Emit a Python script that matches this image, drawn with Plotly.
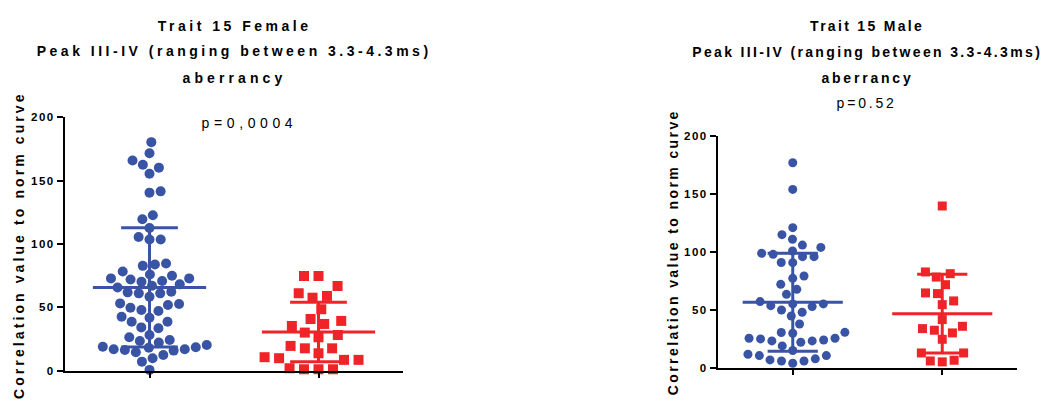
import math
import json
import numpy as np
import plotly.graph_objects as go

W, H = 1045, 401

# ---------------- data ----------------
categories = ["Group 1", "Group 2"]

female_blue = [180.3, 171.6, 165.9, 162.5, 160.2, 155.4, 141.5, 140.5, 122.7, 119.5,
               112.7, 103.5, 103.5, 105.6, 83.9, 82.8, 84.7, 78.4, 76.0, 75.0,
               72.9, 72.1, 72.9, 70.2, 70.8, 67.1, 68.2, 62.4, 61.1, 58.5,
               61.1, 61.9, 65.8, 53.2, 51.9, 52.7, 49.8, 48.0, 47.2, 42.7,
               41.9, 38.8, 38.8, 34.3, 33.6, 28.3, 24.4, 22.3, 19.1, 18.6,
               17.0, 16.5, 16.0, 17.0, 18.3, 20.4, 23.6, 26.5, 10.0, 14.7,
               7.3, 12.6, 0.8]
female_red = [74.8, 74.8, 66.9, 61.2, 57.7, 59.1, 48.6, 40.9, 37.0, 39.4,
              35.4, 30.2, 26.5, 28.3, 19.7, 17.8, 13.9, 17.8, 10.0, 8.7,
              8.7, 10.8, 1.3, 1.3, 1.3, 2.1]
male_blue = [177.0, 154.0, 121.0, 111.0, 115.0, 104.0, 106.0, 98.9, 96.0, 91.0,
             90.8, 96.0, 98.0, 100.9, 77.3, 79.3, 67.8, 72.1, 63.5, 55.2,
             53.7, 52.9, 55.2, 57.2, 48.0, 50.0, 37.9, 44.8, 30.5, 25.6,
             25.0, 23.3, 22.1, 19.0, 23.3, 24.1, 25.6, 29.9, 30.7, 15.0,
             10.6, 7.8, 6.0, 4.0, 6.0, 6.9, 10.6, 11.8]
male_red = [139.7, 81.3, 78.4, 82.8, 71.8, 64.7, 64.1, 57.8, 54.6, 41.7,
            33.9, 30.2, 32.5, 35.9, 24.7, 12.9, 12.9, 6.6, 5.2, 6.0]

female_mean = [65.8, 30.7]
female_sd = [47.0, 23.5]
male_mean = [56.6, 46.8]
male_sd = [42.3, 34.0]

panel_titles = ["Trait 15 Female", "Trait 15 Male"]
title_line2 = "Peak III-IV (ranging between 3.3-4.3ms)"
title_line3 = "aberrancy"
p_values = ["p=0,0004", "p=0.52"]
y_title = "Correlation value to norm curve"
y_ticks = [0, 50, 100, 150, 200]

BLUE = "#3a54a5"
RED = "#ee2428"
FONT = "Arial, Liberation Sans, sans-serif"


def Y(t):
    # compensate for the vertical mapping observed in the photographed page
    return (t - 5.75) / 0.971


# ---------------- geometry (pixels) ----------------
panels = [
    dict(x0=65, x1=403, ytop=Y(117), ybot=Y(371)),
    dict(x0=718, x1=1017, ytop=Y(136), ybot=Y(368)),
]


def swarm(values, px_per_unit, diam):
    """Greedy beeswarm offsets (pixels) computed from the values."""
    vals = np.asarray(values, dtype=float)
    order = np.argsort(vals, kind="stable")
    placed = []
    xs = np.zeros(len(vals))
    for n, i in enumerate(order):
        y = vals[i] * px_per_unit
        cands = [0.0]
        for (px, py) in placed:
            dy = abs(py - y)
            if dy < diam:
                dx = math.sqrt(diam ** 2 - dy ** 2)
                cands += [px + dx, px - dx]
        sign = 1 if n % 2 == 0 else -1
        cands.sort(key=lambda c: (round(abs(c), 4), -sign * c))
        for c in cands:
            if all((c - px) ** 2 + (y - py) ** 2 >= diam ** 2 - 1e-6 for px, py in placed):
                xs[i] = c
                break
        placed.append((xs[i], y))
    return xs


fig = go.Figure()

groups = [
    (female_blue, female_red, female_mean, female_sd, 10.0, 10.0, 11.2, 14.5),
    (male_blue, male_red, male_mean, male_sd, 9.0, 9.0, 11.5, 12.0),
]

for k, (blue, red, mean, sd, csize, ssize, dsb, dsr) in enumerate(groups):
    p = panels[k]
    px_unit_y = 0.971 * (p["ybot"] - p["ytop"]) / 200.0
    px_cat = (p["x1"] - p["x0"]) / 2.0
    xa = "x" if k == 0 else "x2"
    ya = "y" if k == 0 else "y2"
    for ci, (vals, sym, col, size, dd) in enumerate([(blue, "circle", BLUE, csize, dsb),
                                                      (red, "square", RED, ssize, dsr)]):
        offs = swarm(vals, px_unit_y, dd) / px_cat
        fig.add_trace(go.Scatter(
            x=ci + offs, y=vals, mode="markers", xaxis=xa, yaxis=ya,
            marker=dict(symbol=sym, size=size, color=col, line=dict(width=0)),
            cliponaxis=False, showlegend=False, hoverinfo="skip"))
    for ci, col in enumerate([BLUE, RED]):
        m, s = mean[ci], sd[ci]
        xs = [ci - 0.335, ci + 0.335, None, ci, ci, None,
              ci - 0.168, ci + 0.168, None, ci - 0.168, ci + 0.168]
        ys = [m, m, None, m - s, m + s, None, m + s, m + s, None, m - s, m - s]
        fig.add_trace(go.Scatter(
            x=xs, y=ys, mode="lines", xaxis=xa, yaxis=ya,
            line=dict(color=col, width=3), cliponaxis=False,
            showlegend=False, hoverinfo="skip"))

axis_common = dict(showgrid=False, zeroline=False, showline=True, linecolor="black",
                   linewidth=2, ticks="outside", tickcolor="black", tickwidth=2)

layout_axes = {}
for k, p in enumerate(panels):
    sfx = "" if k == 0 else "2"
    layout_axes["xaxis" + sfx] = dict(
        axis_common, domain=[p["x0"] / W, p["x1"] / W], range=[-0.5, 1.5],
        tickvals=[0, 1], ticktext=["", ""], showticklabels=False, ticklen=5,
        anchor="y" + sfx, fixedrange=True)
    layout_axes["yaxis" + sfx] = dict(
        axis_common, domain=[1 - p["ybot"] / H, 1 - p["ytop"] / H], range=[0, 200],
        tickvals=y_ticks, ticklen=6, anchor="x" + sfx, fixedrange=True,
        tickfont=dict(family=FONT, size=11.5, color="black", weight="bold"))

annotations = []
spacing = []


def add_ann(text, xpx, ypx, size, bold, ls, angle=0):
    annotations.append(dict(
        text=text, x=xpx / W, y=1 - Y(ypx) / H, xref="paper", yref="paper",
        xanchor="center", yanchor="middle", showarrow=False, textangle=angle,
        font=dict(family=FONT, size=size, color="black",
                  weight="bold" if bold else "normal")))
    spacing.append(ls)


# left panel texts
add_ann(panel_titles[0], 234, 26, 14, True, 3.5)
add_ann(title_line2, 234, 51, 14, True, 3.5)
add_ann(title_line3, 234, 78, 14, True, 4.1)
add_ann(p_values[0], 249, 123, 14, False, 4.6)
add_ann(y_title, 19, 245, 14, True, 3.1, -90)
# right panel texts
add_ann(panel_titles[1], 867, 26, 14, True, 2.3)
add_ann(title_line2, 867, 52, 14, True, 2.35)
add_ann(title_line3, 867, 78, 14, True, 2.8)
add_ann(p_values[1], 866, 103, 14, False, 2.8)
add_ann(y_title, 673, 252, 14, True, 2.4, -90)

fig.update_layout(
    width=W, height=H, margin=dict(l=0, r=0, t=0, b=0),
    paper_bgcolor="white", plot_bgcolor="white",
    annotations=annotations, showlegend=False, **layout_axes)

post = """
var gd = document.getElementById('{plot_id}');
var sp = SPJSON;
function applySpacing(){
  gd.querySelectorAll('g.annotation').forEach(function(g){
    var i = +g.getAttribute('data-index');
    var t = g.querySelector('text');
    if (t && sp[i] != null) { t.style.letterSpacing = sp[i] + 'px'; }
  });
  gd.querySelectorAll('.ytick text, .y2tick text').forEach(function(t){
    t.style.letterSpacing = '1.5px';
  });
}
applySpacing();
""".replace("SPJSON", json.dumps(spacing))

fig.write_html("out.html", config={"displayModeBar": False, "staticPlot": True},
               post_script=post)
